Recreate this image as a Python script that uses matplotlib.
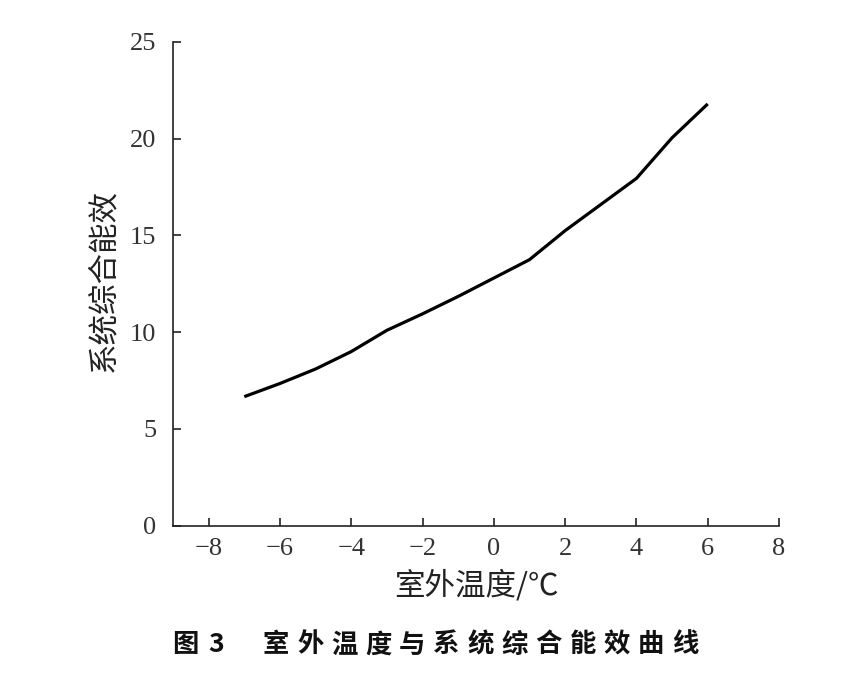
import matplotlib
matplotlib.use("Agg")
import matplotlib.pyplot as plt

temps = [-7, -6, -5, -4, -3, -2, -1, 0, 1, 2, 3, 4, 5, 6]
cop = [6.67, 7.35, 8.1, 9.0, 10.1, 10.95, 11.85, 12.8, 13.75, 15.25, 16.6, 17.95, 20.05, 21.8]
xticks = [-8, -6, -4, -2, 0, 2, 4, 6, 8]
yticks = [0, 5, 10, 15, 20, 25]
xlabel = "室外温度/℃"
ylabel = "系统综合能效"
caption_head = ["图", "3"]
caption_body = "室外温度与系统综合能效曲线"

cjk = ["Noto Sans CJK SC", "DejaVu Sans"]
W, H = 865, 684

fig = plt.figure(figsize=(8.65, 6.84), dpi=100)
ax = fig.add_axes([0.2, 0.2314, 0.7006, 0.7072])
ax.plot(temps, cop, color="black", lw=2.3, solid_capstyle="butt")
ax.set_xlim(-9, 8)
ax.set_ylim(0, 25)
ax.set_xticks(xticks)
ax.set_yticks(yticks)
ax.set_xticklabels([str(t).replace("-", "\u2212") for t in xticks], family="Liberation Serif", fontsize=19, color="#333333")
ax.set_yticklabels([str(t) for t in yticks], family="Liberation Serif", fontsize=19, color="#333333")
for s in ["top", "right"]:
    ax.spines[s].set_visible(False)
for s in ["left", "bottom"]:
    ax.spines[s].set_linewidth(1.2)
    ax.spines[s].set_color("#222222")
ax.tick_params(direction="in", length=6, width=1.2, color="#222222")
ax.tick_params(axis="y", pad=12)
ax.tick_params(axis="x", pad=9)

fig.text(476 / W, 1 - 586 / H, xlabel, family=cjk, fontsize=22, color="#222222",
         ha="center", va="center")
fig.text(103.5 / W, 1 - 280 / H, ylabel, family=cjk, fontsize=22, color="#222222",
         ha="center", va="center", rotation=90)

cy = 1 - 645 / H
for ch, px in zip(caption_head, [185, 216]):
    fig.text(px / W, cy, ch, family=cjk, fontsize=19, fontweight="bold",
             ha="center", va="center", color="#111111")
x0, pitch = 276, 34.1
for i, ch in enumerate(caption_body):
    fig.text((x0 + i * pitch) / W, cy, ch, family=cjk, fontsize=19, fontweight="bold",
             ha="center", va="center", color="#111111")

fig.savefig("out.png", dpi=100)
